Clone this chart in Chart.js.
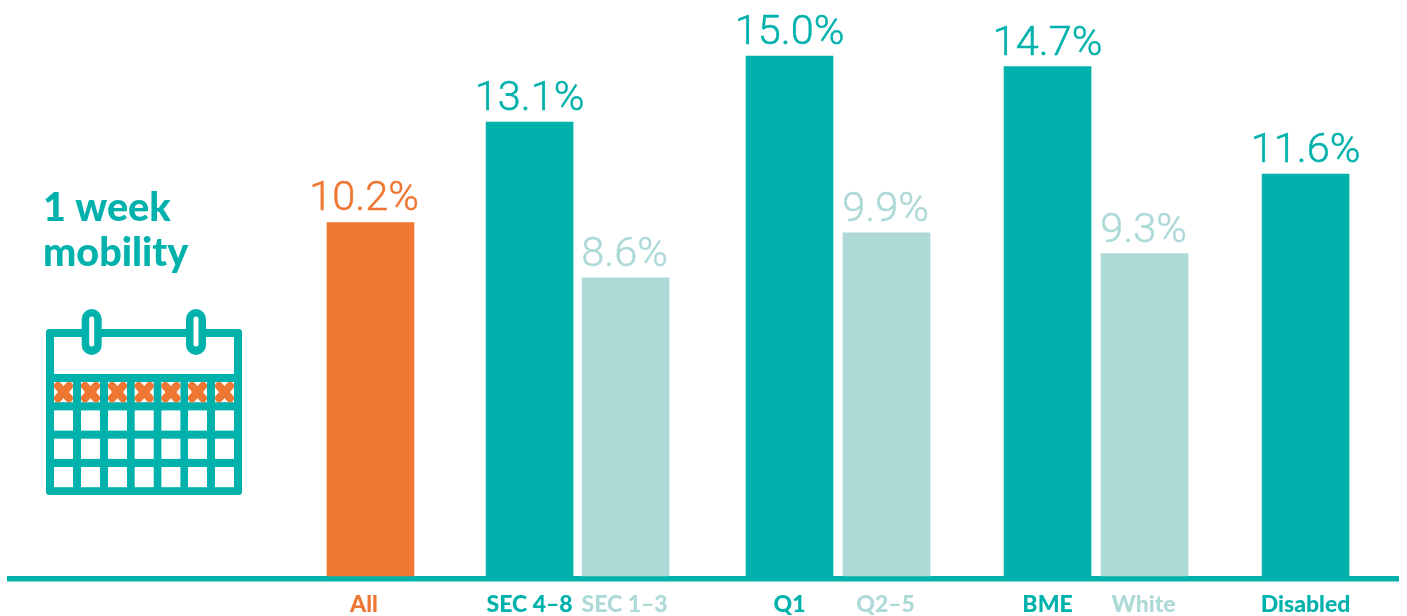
<!DOCTYPE html>
<html>
<head>
<meta charset="utf-8">
<script src="https://cdn.jsdelivr.net/npm/chart.js@4"></script>
<style>html,body{margin:0;padding:0;background:#fff}canvas{display:block}</style>
</head>
<body>
<canvas id="c" width="1407" height="616"></canvas>
<script>
const categories = ['All','SEC 4–8','SEC 1–3','Q1','Q2–5','BME','White','Disabled'];
const mobilityValues = [10.2,13.1,8.6,15.0,9.9,14.7,9.3,11.6];
const barSlots = [0,1.64,2.63,4.32,5.32,6.98,7.98,9.64];
const labelSlots = [-0.067,1.64,2.62,4.32,5.31,6.98,7.97,9.64];
const titleLines = ['1 week','mobility'];

const TEAL='#00B1AC', ORANGE='#EE7733', PALE='#ADD9D7';
const barColors=[ORANGE,TEAL,PALE,TEAL,PALE,TEAL,PALE,TEAL];
const valueFont='300 41.5px Roboto, Lato, sans-serif';

function roundRect(ctx,x,y,w,h,r,fill){ctx.beginPath();ctx.roundRect(x,y,w,h,r);ctx.fillStyle=fill;ctx.fill();}

const valueLabels={id:'valueLabels',afterDatasetsDraw(chart){
  const ctx=chart.ctx,meta=chart.getDatasetMeta(0),xs=chart.scales.x;
  ctx.save();ctx.font=valueFont;ctx.textAlign='center';ctx.textBaseline='alphabetic';ctx.lineWidth=0.5;
  meta.data.forEach((el,i)=>{
    const t=mobilityValues[i].toFixed(1)+'%',x=xs.getPixelForValue(labelSlots[i]);
    ctx.fillStyle=ctx.strokeStyle=barColors[i];
    ctx.fillText(t,x,el.y-12);ctx.strokeText(t,x,el.y-12);
  });
  ctx.restore();
}};

const sidePanel={id:'sidePanel',afterDraw(chart){
  const ctx=chart.ctx;ctx.save();
  ctx.fillStyle=TEAL;ctx.font='900 39.5px Lato, sans-serif';ctx.textBaseline='alphabetic';ctx.textAlign='left';
  ctx.fillText(titleLines[0],43,221);ctx.fillText(titleLines[1],43,266);
  // calendar icon
  roundRect(ctx,46,329,196,166,3,TEAL);
  ctx.fillStyle='#fff';ctx.fillRect(54,337,180,37);
  const cols=[54,81,108,134.7,161.4,188,215],rows=[382,410.4,438.7,467];
  rows.forEach((y,r)=>cols.forEach(x=>{
    ctx.fillStyle='#fff';ctx.fillRect(x,y,19,20.2);
    if(r===0){ctx.strokeStyle=ORANGE;ctx.lineWidth=8;ctx.lineCap='round';ctx.beginPath();
      ctx.moveTo(x+4,y+4);ctx.lineTo(x+15,y+16.2);ctx.moveTo(x+15,y+4);ctx.lineTo(x+4,y+16.2);ctx.stroke();}
  }));
  [81.7,186].forEach(x=>{
    roundRect(ctx,x,309,20,46,10,TEAL);
    roundRect(ctx,x+7.5,316.5,5,30,2.5,'#fff');
  });
  ctx.restore();
}};

new Chart(document.getElementById('c'),{
  type:'bar',
  data:{labels:categories,datasets:[{
    data:barSlots.map((s,i)=>({x:s,y:mobilityValues[i]})),
    backgroundColor:barColors,borderWidth:0,barThickness:87
  }]},
  plugins:[valueLabels,sidePanel],
  options:{
    responsive:false,animation:false,devicePixelRatio:1,
    layout:{padding:{left:9.75,right:9,top:0,bottom:0}},
    plugins:{legend:{display:false},tooltip:{enabled:false}},
    scales:{
      x:{type:'linear',offset:false,min:-3.719,max:10.593,
        grid:{display:false,drawTicks:false},
        border:{color:TEAL,width:5.5},
        afterBuildTicks(s){s.ticks=labelSlots.map(v=>({value:v}));},
        afterFit(s){s.height=37.25;},
        ticks:{autoSkip:false,maxRotation:0,minRotation:0,padding:12,
          font:{family:'Lato, sans-serif',weight:'900',size:23},
          color:c=>barColors[c.index],
          callback:(v,i)=>categories[i]}
      },
      y:{display:false,min:-0.08,max:16.62}
    }
  }
});
</script>
</body>
</html>
